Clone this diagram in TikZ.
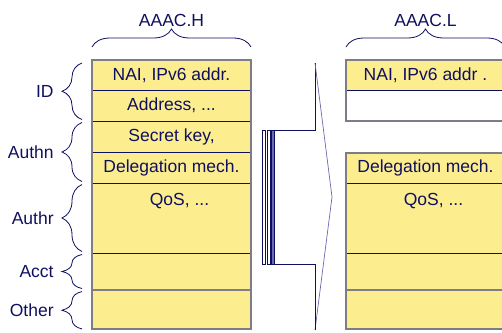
\documentclass[tikz,border=0pt]{standalone}
\usepackage{fontspec}
\setmainfont{Liberation Sans}
\usetikzlibrary{positioning,decorations.pathreplacing}
\definecolor{fieldyellow}{RGB}{252,238,142}
\definecolor{inknavy}{RGB}{15,15,95}
\definecolor{framegray}{RGB}{125,125,135}
\definecolor{headblue}{RGB}{105,105,175}

\begin{document}
\begin{tikzpicture}
    [
        x=1pt, y=-1pt,
        every node/.style={font=\fontsize{17.5}{21}\selectfont, text=inknavy},
        fieldnode/.style={rectangle, draw=inknavy, fill=fieldyellow, line width=0.8pt, minimum width=159pt, inner sep=0pt, outer sep=0pt},
        emptynode/.style={rectangle, draw=inknavy, fill=white, line width=0.8pt, minimum width=159pt, inner sep=0pt, outer sep=0pt},
        framebox/.style={draw=framegray, line width=1.1pt},
        bracetop/.style={draw=inknavy, line width=0.8pt, decorate, decoration={brace, amplitude=18pt}},
        braceside/.style={draw=inknavy, line width=0.8pt, decorate, decoration={brace, amplitude=20pt}},
        sidelabel/.style={anchor=east, inner sep=0pt, xshift=-28pt},
    ]

    \useasboundingbox (0,0) rectangle (502,332);

    % AAAC.H column
    \node[fieldnode, minimum height=30pt] (nai_h) at (171.5,75) {NAI, IPv6 addr.};
    \node[fieldnode, minimum height=31pt, below=0pt of nai_h] (addr_h) {Address, ...};
    \node[fieldnode, minimum height=31pt, below=0pt of addr_h] (secret_h) {Secret key,};
    \node[fieldnode, minimum height=31pt, below=0pt of secret_h] (deleg_h) {Delegation mech.};
    \node[fieldnode, minimum height=70pt, below=0pt of deleg_h] (qos_h) {};
    \node[fieldnode, minimum height=37pt, below=0pt of qos_h] (acct_h) {};
    \node[fieldnode, minimum height=39pt, below=0pt of acct_h] (other_h) {};
    \node (qostext_h) at ([xshift=8pt, yshift=-18pt]qos_h.north) {QoS, ...};
    \draw[framebox] (other_h.north west) -- (other_h.north east);
    \draw[framebox] (nai_h.north west) rectangle (other_h.south east);

    % AAAC.L column
    \node[fieldnode, minimum height=30pt] (nai_l) at (425.5,75) {NAI, IPv6 addr .};
    \node[emptynode, minimum height=31pt, below=0pt of nai_l] (empty_l) {};
    \node[fieldnode, minimum height=30pt] (deleg_l) at (425.5,168) {Delegation mech.};
    \node[fieldnode, minimum height=70pt, below=0pt of deleg_l] (qos_l) {};
    \node[fieldnode, minimum height=37pt, below=0pt of qos_l] (acct_l) {};
    \node[fieldnode, minimum height=39pt, below=0pt of acct_l] (other_l) {};
    \node (qostext_l) at ([xshift=8pt, yshift=-18pt]qos_l.north) {QoS, ...};
    \draw[framebox] (other_l.north west) -- (other_l.north east);
    \draw[framebox] (nai_l.north west) rectangle (empty_l.south east);
    \draw[framebox] (deleg_l.north west) rectangle (other_l.south east);

    % column headings
    \draw[bracetop] ([yshift=13pt]nai_h.north west) -- ([yshift=13pt]nai_h.north east);
    \draw[bracetop] ([yshift=13pt]nai_l.north west) -- ([yshift=13pt]nai_l.north east);
    \node (head_h) at ([yshift=40pt]nai_h.north) {AAAC.H};
    \node (head_l) at ([yshift=40pt]nai_l.north) {AAAC.L};

    % side braces
    \draw[braceside] ([xshift=-10pt, yshift=1.5pt]addr_h.south west) -- node[sidelabel] (lbl_id) {ID} ([xshift=-10pt, yshift=-3pt]nai_h.north west);
    \draw[braceside] ([xshift=-10pt, yshift=1.5pt]deleg_h.south west) -- node[sidelabel] (lbl_authn) {Authn} ([xshift=-10pt, yshift=-1.5pt]secret_h.north west);
    \draw[braceside] ([xshift=-10pt, yshift=1.5pt]qos_h.south west) -- node[sidelabel] (lbl_authr) {Authr} ([xshift=-10pt, yshift=-1.5pt]qos_h.north west);
    \draw[braceside] ([xshift=-10pt, yshift=1.5pt]acct_h.south west) -- node[sidelabel] (lbl_acct) {Acct} ([xshift=-10pt, yshift=-1.5pt]acct_h.north west);
    \draw[braceside] ([xshift=-10pt, yshift=0pt]other_h.south west) -- node[sidelabel] (lbl_other) {Other} ([xshift=-10pt, yshift=-1.5pt]other_h.north west);

    % transfer arrow
    \draw[inknavy, line width=1pt] (274.5,130) -- (315,130) -- (315,63);
    \draw[headblue, line width=0.7pt] (315,63) -- (332,197) -- (315,330);
    \draw[inknavy, line width=1pt] (315,330) -- (315,264) -- (274.5,264);
    \draw[inknavy, line width=0.6pt] (262.5,130) rectangle (265.5,264);
    \draw[inknavy, line width=0.6pt] (267,130) rectangle (270,264);
    \filldraw[draw=inknavy, fill=headblue, line width=0.6pt] (271.5,130) rectangle (274.5,264);

\end{tikzpicture}
\end{document}
